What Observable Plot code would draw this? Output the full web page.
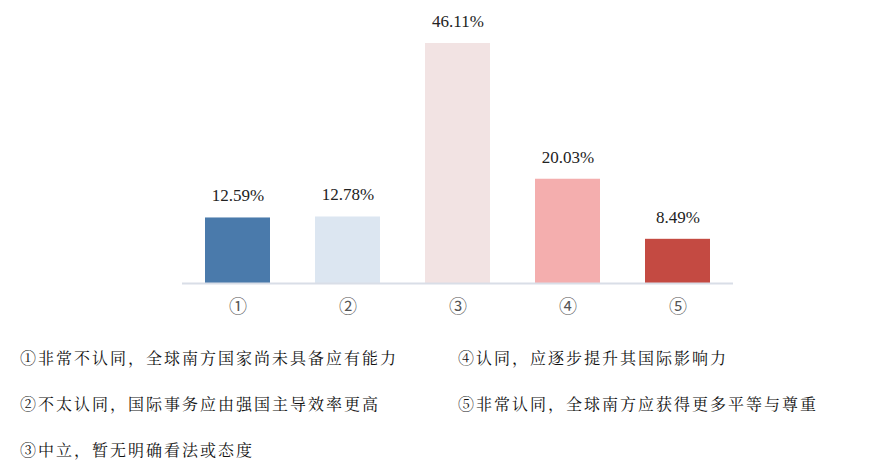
<!DOCTYPE html>
<html>
<head>
<meta charset="utf-8">
<script src="https://cdn.jsdelivr.net/npm/d3@7"></script>
<script src="https://cdn.jsdelivr.net/npm/@observablehq/plot@0.6"></script>
<style>
  html, body { margin: 0; padding: 0; background: #fff; }
  #wrap { width: 872px; height: 463px; position: relative; overflow: hidden; }
  #legend {
    display: grid;
    grid-template-columns: 438px 414px;
    grid-auto-rows: 18px;
    row-gap: 28px;
    padding-left: 20px;
    margin-top: 19px;
    font-family: "Noto Serif CJK SC", "Noto Sans CJK SC", serif;
    font-size: 16px;
    letter-spacing: 2px;
    color: #111;
  }
  #legend div { line-height: 18px; white-space: nowrap; }
  svg { display: block; }
</style>
</head>
<body>
<div id="wrap">
  <div id="chart"></div>
  <div id="legend"></div>
</div>
<script>
const categories = ["①", "②", "③", "④", "⑤"];
const values = [12.59, 12.78, 46.11, 20.03, 8.49];
const barColors = ["#4a7aab", "#dce6f1", "#f2e3e3", "#f4aeae", "#c44a42"];
const legendLabels = [
  "①非常不认同，全球南方国家尚未具备应有能力",
  "②不太认同，国际事务应由强国主导效率更高",
  "③中立，暂无明确看法或态度",
  "④认同，应逐步提升其国际影响力",
  "⑤非常认同，全球南方应获得更多平等与尊重"
];

const data = categories.map((c, i) => ({cat: c, value: values[i]}));

const chart = Plot.plot({
  width: 872,
  height: 330,
  marginTop: 43,
  marginBottom: 47,
  marginLeft: 182,
  marginRight: 139,
  style: {fontFamily: "'Noto Sans CJK SC', sans-serif", fontSize: "18px", color: "#555", background: "#fff"},
  x: {domain: categories, paddingInner: 0.41, paddingOuter: 0.205, label: null, tickSize: 0, tickPadding: 17},
  y: {domain: [0, 46.11], axis: null},
  color: {domain: categories, range: barColors},
  marks: [
    Plot.barY(data, {x: "cat", y: "value", fill: "cat"}),
    Plot.ruleY([0], {stroke: "#d9dee7", strokeWidth: 2}),
    Plot.text(data, {x: "cat", y: "value", text: d => d.value.toFixed(2) + "%", dy: -22, fontSize: 17, fill: "#222", fontFamily: "'Liberation Serif', serif", letterSpacing: 0.8})
  ]
});
document.getElementById("chart").appendChild(chart);

// legend order: left column ①②③, right column ④⑤
const order = [0, 3, 1, 4, 2];
const legend = document.getElementById("legend");
order.forEach(i => {
  const d = document.createElement("div");
  d.textContent = legendLabels[i];
  legend.appendChild(d);
});
</script>
</body>
</html>
